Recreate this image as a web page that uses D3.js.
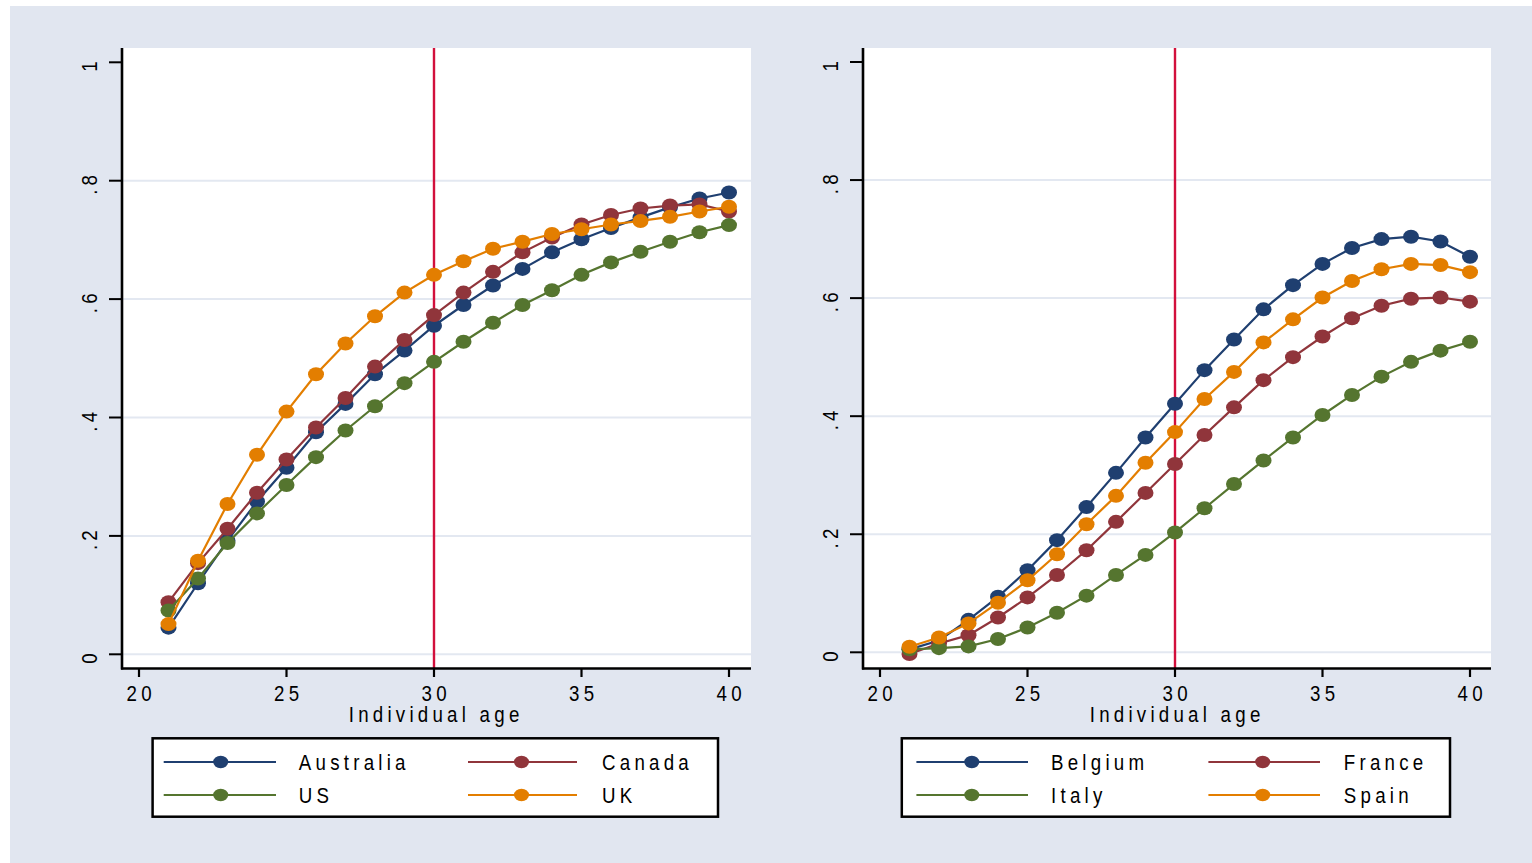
<!DOCTYPE html>
<html>
<head>
<meta charset="utf-8">
<script src="https://cdn.jsdelivr.net/npm/d3@7"></script>
<style>
  html, body { margin: 0; padding: 0; background: #ffffff; }
  svg { display: block; }
  text { font-family: "Liberation Sans", Arial, sans-serif; fill: #000; }
</style>
</head>
<body>
<svg id="chart" width="1532" height="863"></svg>
<script>
// ---------------- DATA ----------------
const ages = [21,22,23,24,25,26,27,28,29,30,31,32,33,34,35,36,37,38,39,40];
const xTicks = [20,25,30,35,40];
const yTicks = [0,0.2,0.4,0.6,0.8,1];
const yTickLabels = ["0",".2",".4",".6",".8","1"];
const xTitle = "Individual age";
const cutoffAge = 30;

const leftNames = ["Australia","Canada","US","UK"];
const australia = [0.045,0.120,0.192,0.258,0.315,0.375,0.423,0.473,0.513,0.555,0.590,0.623,0.651,0.679,0.701,0.720,0.738,0.755,0.770,0.780];
const canada    = [0.088,0.154,0.212,0.273,0.329,0.383,0.433,0.486,0.531,0.573,0.611,0.646,0.679,0.704,0.726,0.742,0.753,0.758,0.760,0.748];
const us        = [0.074,0.128,0.188,0.238,0.286,0.333,0.378,0.419,0.458,0.494,0.528,0.560,0.590,0.615,0.641,0.662,0.680,0.697,0.713,0.725];
const uk        = [0.051,0.158,0.254,0.337,0.410,0.473,0.525,0.571,0.611,0.641,0.664,0.685,0.697,0.710,0.718,0.726,0.732,0.739,0.748,0.756];

const rightNames = ["Belgium","France","Italy","Spain"];
const belgium = [0.005,0.020,0.055,0.094,0.139,0.190,0.246,0.304,0.364,0.421,0.478,0.530,0.581,0.622,0.658,0.685,0.700,0.704,0.696,0.670];
const france  = [-0.003,0.015,0.029,0.059,0.093,0.131,0.173,0.221,0.270,0.319,0.368,0.415,0.461,0.500,0.535,0.566,0.587,0.599,0.601,0.594];
const italy   = [0.005,0.007,0.010,0.0225,0.042,0.067,0.096,0.131,0.165,0.203,0.244,0.285,0.325,0.364,0.402,0.436,0.467,0.492,0.511,0.526];
const spain   = [0.0095,0.025,0.049,0.084,0.122,0.166,0.217,0.265,0.321,0.373,0.429,0.475,0.525,0.564,0.601,0.629,0.649,0.658,0.656,0.644];

const seriesColors = ["#1f3f70","#90353b","#55752f","#e37e00"];

// ---------------- LAYOUT ----------------
const FS = 22, SX = 0.85, LS = 5;   // font size, horizontal condensation, letter spacing
const svg = d3.select("#chart");
svg.append("rect").attr("x",10).attr("y",6).attr("width",1522).attr("height",857).attr("fill","#e1e6f0");

function label(g, x, y, txt, anchor, rot) {
  const shift = anchor === "middle" ? LS * SX / 2 : 0;
  const t = rot
    ? `translate(${x},${y + shift}) rotate(-90) scale(${SX},1)`
    : `translate(${x + shift},${y}) scale(${SX},1)`;
  g.append("text").attr("transform", t)
    .attr("text-anchor", anchor).attr("font-size", FS).attr("letter-spacing", LS + "px")
    .text(txt);
}

const panels = [
  { names: leftNames, values: [australia, canada, us, uk],
    plot: {x0:121, x1:751, y0:48, y1:668},
    xr: [139, 729], yr: [654.3, 62.3],
    legend: {x0:152.6, x1:718, y0:738.3, y1:816.7,
             cols: [{l0:163.7,l1:276,m:220.7,t:298.8},{l0:468,l1:577,m:521.5,t:602}]} },
  { names: rightNames, values: [belgium, france, italy, spain],
    plot: {x0:862, x1:1491, y0:48, y1:668},
    xr: [880, 1470], yr: [652.3, 62.0],
    legend: {x0:901.8, x1:1450, y0:738.3, y1:816.7,
             cols: [{l0:916.4,l1:1028,m:971.8,t:1051},{l0:1208.4,l1:1320,m:1262.7,t:1343.8}]} }
];

panels.forEach(p => {
  const g = svg.append("g");
  const x = d3.scaleLinear().domain([20,40]).range(p.xr);
  const y = d3.scaleLinear().domain([0,1]).range(p.yr);

  // plot region
  g.append("rect").attr("x",p.plot.x0).attr("y",p.plot.y0)
    .attr("width",p.plot.x1-p.plot.x0).attr("height",p.plot.y1-p.plot.y0).attr("fill","#ffffff");

  // gridlines
  g.selectAll(".grid").data(yTicks.filter(v => v < 1)).join("line")
    .attr("x1",p.plot.x0).attr("x2",p.plot.x1)
    .attr("y1",d=>y(d)).attr("y2",d=>y(d))
    .attr("stroke","#e3e8f1").attr("stroke-width",2);

  // reference line at age 30
  g.append("line").attr("x1",x(cutoffAge)).attr("x2",x(cutoffAge))
    .attr("y1",p.plot.y0).attr("y2",p.plot.y1)
    .attr("stroke","#d2103c").attr("stroke-width",2.4);

  // series
  const line = d3.line().x((d,i)=>x(ages[i])).y(d=>y(d));
  p.values.forEach((vals, si) => {
    g.append("path").datum(vals).attr("d",line)
      .attr("fill","none").attr("stroke",seriesColors[si]).attr("stroke-width",2.2);
    g.selectAll(".m"+si).data(vals).join("ellipse")
      .attr("cx",(d,i)=>x(ages[i])).attr("cy",d=>y(d)).attr("rx",8).attr("ry",7)
      .attr("fill",seriesColors[si]);
  });

  // y axis
  g.append("line").attr("x1",p.plot.x0+1).attr("x2",p.plot.x0+1)
    .attr("y1",p.plot.y0).attr("y2",p.plot.y1+1.5)
    .attr("stroke","#000").attr("stroke-width",2.6);
  g.selectAll(".yt").data(yTicks).join("line")
    .attr("x1",p.plot.x0-12).attr("x2",p.plot.x0)
    .attr("y1",d=>y(d)).attr("y2",d=>y(d))
    .attr("stroke","#000").attr("stroke-width",2);
  yTicks.forEach((v,i) => label(g, p.plot.x0-24, y(v), yTickLabels[i], "middle", true));

  // x axis
  g.append("line").attr("x1",p.plot.x0).attr("x2",p.plot.x1)
    .attr("y1",p.plot.y1+0.5).attr("y2",p.plot.y1+0.5)
    .attr("stroke","#000").attr("stroke-width",2.5);
  g.selectAll(".xt").data(xTicks).join("line")
    .attr("x1",d=>x(d)).attr("x2",d=>x(d))
    .attr("y1",p.plot.y1).attr("y2",p.plot.y1+9)
    .attr("stroke","#000").attr("stroke-width",2.2);
  xTicks.forEach(v => label(g, x(v), 701, String(v), "middle", false));
  label(g, x(30), 722, xTitle, "middle", false);

  // legend
  const L = p.legend;
  g.append("rect").attr("x",L.x0).attr("y",L.y0).attr("width",L.x1-L.x0).attr("height",L.y1-L.y0)
    .attr("fill","#fff").attr("stroke","#000").attr("stroke-width",2.5);
  const rows = [762, 795];
  p.names.forEach((name, si) => {
    const c = L.cols[si % 2], ry = rows[Math.floor(si/2)];
    g.append("line").attr("x1",c.l0).attr("x2",c.l1).attr("y1",ry).attr("y2",ry)
      .attr("stroke",seriesColors[si]).attr("stroke-width",2);
    g.append("ellipse").attr("cx",c.m).attr("cy",ry).attr("rx",7.5).attr("ry",6.2).attr("fill",seriesColors[si]);
    label(g, c.t, ry + 8, name, "start", false);
  });
});
</script>
</body>
</html>
